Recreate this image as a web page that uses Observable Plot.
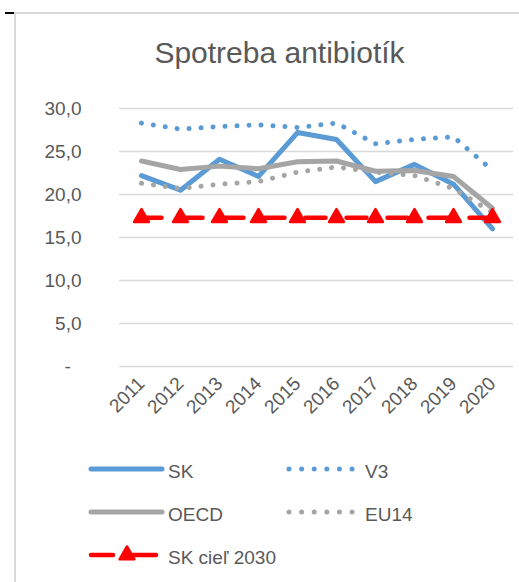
<!DOCTYPE html>
<html>
<head>
<meta charset="utf-8">
<script src="https://cdn.jsdelivr.net/npm/d3@7"></script>
<script src="https://cdn.jsdelivr.net/npm/@observablehq/plot@0.6"></script>
<style>
  html, body { margin: 0; padding: 0; background: #fff; }
  #wrap { position: relative; width: 519px; height: 582px; overflow: hidden; font-family: "Liberation Sans", Arial, sans-serif; }
  #title { position: absolute; left: 0; width: 559px; top: 36px; text-align: center; font-size: 30px; color: #595959; white-space: nowrap; }
  .abs { position: absolute; }
</style>
</head>
<body>
<div id="wrap">
  <div id="chart" class="abs" style="left:0;top:0;"></div>
  <div id="legend" class="abs" style="left:0;top:440px;"></div>
  <div class="abs" style="left:14px;top:12px;width:505px;height:1.5px;background:#d9d9d9;"></div>
  <div class="abs" style="left:14px;top:12px;width:2px;height:570px;background:#d9d9d9;"></div>
  <div class="abs" style="left:5px;top:12px;width:9px;height:2px;background:#000;"></div>
  <div id="title">Spotreba antibiotík</div>
</div>
<script>
const years  = ["2011","2012","2013","2014","2015","2016","2017","2018","2019","2020"];
const sk     = [22.2, 20.5, 24.1, 22.1, 27.2, 26.4, 21.5, 23.5, 21.2, 16.0];
const v3     = [28.3, 27.6, 27.9, 28.1, 27.8, 28.3, 25.9, 26.4, 26.7, 22.8];
const oecd   = [23.9, 22.9, 23.3, 23.0, 23.8, 23.9, 22.7, 22.8, 22.1, 18.4];
const eu14   = [21.3, 20.7, 21.2, 21.5, 22.6, 23.2, 22.6, 22.2, 20.7, 17.9];
const target = [17.3, 17.3, 17.3, 17.3, 17.3, 17.3, 17.3, 17.3, 17.3, 17.3];
const yTicks = [0, 5, 10, 15, 20, 25, 30];
const seriesNames = ["SK", "V3", "OECD", "EU14", "SK cieľ 2030"];

const BLUE = "#5B9BD5", GRAY = "#A5A5A5", RED = "#FF0000", TEXT = "#595959", GRID = "#D9D9D9";

const rows = (vals) => years.map((y, i) => ({year: y, value: vals[i]}));

const fmt = d => d === 0 ? "-\u2007" : d.toFixed(1).replace(".", ",");

const plot = Plot.plot({
  width: 519,
  height: 440,
  marginTop: 108,
  marginBottom: 74,
  marginLeft: 119,
  marginRight: 6,
  style: {background: "transparent", fontFamily: "'Liberation Sans', Arial, sans-serif", color: TEXT},
  x: {type: "point", domain: years, padding: 0.5, label: null},
  y: {domain: [0, 30], label: null},
  marks: [
    Plot.ruleY(yTicks, {stroke: GRID, strokeWidth: 1.5}),
    Plot.axisY({ticks: yTicks, tickFormat: fmt, tickSize: 0, tickPadding: 38, fontSize: 19, fill: TEXT, label: null}),
    Plot.axisX({tickRotate: -45, tickSize: 0, tickPadding: 14, fontSize: 19, fill: TEXT, label: null}),
    Plot.line(rows(sk), {x: "year", y: "value", stroke: BLUE, strokeWidth: 5, strokeLinejoin: "round"}),
    Plot.line(rows(v3), {x: "year", y: "value", stroke: BLUE, strokeWidth: 5, strokeDasharray: "0.01,12", strokeLinecap: "round"}),
    Plot.line(rows(oecd), {x: "year", y: "value", stroke: GRAY, strokeWidth: 5, strokeLinejoin: "round"}),
    Plot.line(rows(eu14), {x: "year", y: "value", stroke: GRAY, strokeWidth: 5, strokeDasharray: "0.01,12", strokeLinecap: "round"}),
    Plot.line(rows(target), {x: "year", y: "value", stroke: RED, strokeWidth: 4.5, strokeDasharray: "20,21"}),
    Plot.dot(rows(target), {x: "year", y: "value", symbol: "triangle", r: 5.5, fill: RED, stroke: RED, strokeWidth: 2.5, strokeLinejoin: "round"})
  ]
});
document.getElementById("chart").appendChild(plot);

// Legend
const lg = d3.select("#legend").append("svg").attr("width", 519).attr("height", 142)
  .style("font-family", "'Liberation Sans', Arial, sans-serif").style("font-size", "19px");
const items = [
  {name: seriesNames[0], x: 91, y: 29, kind: "solid", color: BLUE},
  {name: seriesNames[1], x: 289, y: 29, kind: "dot", color: BLUE},
  {name: seriesNames[2], x: 91, y: 72, kind: "solid", color: GRAY},
  {name: seriesNames[3], x: 289, y: 72, kind: "dot", color: GRAY},
  {name: seriesNames[4], x: 91, y: 115, kind: "target", color: RED}
];
items.forEach(it => {
  const g = lg.append("g");
  let tx;
  if (it.kind === "solid") {
    g.append("line").attr("x1", it.x).attr("x2", it.x + 71).attr("y1", it.y).attr("y2", it.y)
      .attr("stroke", it.color).attr("stroke-width", 5).attr("stroke-linecap", "round");
    tx = it.x + 77;
  } else if (it.kind === "dot") {
    g.append("line").attr("x1", it.x).attr("x2", it.x + 63.5).attr("y1", it.y).attr("y2", it.y)
      .attr("stroke", it.color).attr("stroke-width", 5).attr("stroke-linecap", "round")
      .attr("stroke-dasharray", "0.01,12.6");
    tx = it.x + 76;
  } else {
    g.append("line").attr("x1", it.x).attr("x2", it.x + 22).attr("y1", it.y).attr("y2", it.y)
      .attr("stroke", it.color).attr("stroke-width", 4.5).attr("stroke-linecap", "round");
    g.append("line").attr("x1", it.x + 41).attr("x2", it.x + 65).attr("y1", it.y).attr("y2", it.y)
      .attr("stroke", it.color).attr("stroke-width", 4.5).attr("stroke-linecap", "round");
    g.append("path").attr("d", d3.symbol(d3.symbolTriangle, Math.PI * 5.5 * 5.5)())
      .attr("transform", `translate(${it.x + 36},${it.y})`)
      .attr("fill", it.color).attr("stroke", it.color).attr("stroke-width", 2.5).attr("stroke-linejoin", "round");
    tx = it.x + 77;
  }
  g.append("text").attr("x", tx).attr("y", it.y + 2).attr("dy", "0.35em").attr("fill", TEXT).text(it.name);
});
</script>
</body>
</html>
